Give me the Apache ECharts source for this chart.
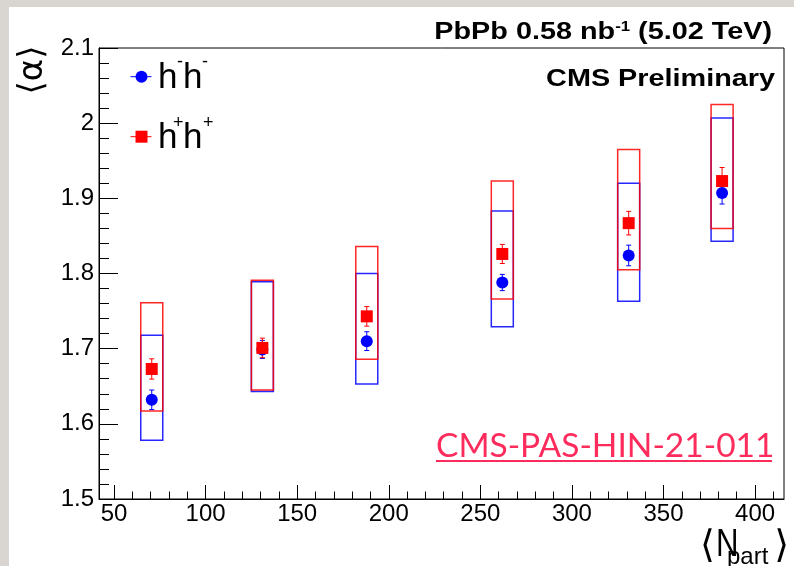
<!DOCTYPE html>
<html><head><meta charset="utf-8">
<script src="https://cdn.jsdelivr.net/npm/echarts@6/dist/echarts.min.js"></script>
<style>html,body{margin:0;padding:0;background:#fff}#c{width:794px;height:566px}</style>
</head><body><div id="c"></div>
<script>
// ---- data ----
const npart = [70.6, 131, 188, 262, 331, 382];

const alphaMinus   = [1.632, 1.699, 1.710, 1.788, 1.824, 1.907];
const statMinus    = [0.013, 0.012, 0.0125, 0.0108, 0.0137, 0.0146];
const sysMinusLow  = [1.578, 1.643, 1.653, 1.729, 1.763, 1.843];
const sysMinusHigh = [1.718, 1.789, 1.800, 1.883, 1.920, 2.007];

const alphaPlus    = [1.673, 1.701, 1.743, 1.826, 1.867, 1.923];
const statPlus     = [0.0135, 0.013, 0.013, 0.0127, 0.0157, 0.018];
const sysPlusLow   = [1.617, 1.645, 1.686, 1.766, 1.805, 1.860];
const sysPlusHigh  = [1.761, 1.791, 1.836, 1.923, 1.965, 2.025];

const xMajorTicks = [50, 100, 150, 200, 250, 300, 350, 400];
const xMinorTicks = [60, 70, 80, 90, 110, 120, 130, 140, 160, 170, 180, 190,
                     210, 220, 230, 240, 260, 270, 280, 290, 310, 320, 330, 340,
                     360, 370, 380, 390, 410];
const xRange = [41.8, 415.8];
const yRange = [1.5, 2.1];
const yStep = 0.1;

// ---- helpers ----
const BLUE = '#0000ff', RED = '#ff0000';
function rows(a, b) { return npart.map((x, i) => [x, a[i], b[i]]); }
function errRows(v, e) { return npart.map((x, i) => [x, v[i] - e[i], v[i] + e[i]]); }
function pts(v) { return npart.map((x, i) => [x, v[i]]); }

function boxSeries(data, color) {
  return {
    type: 'custom', data, silent: true, encode: { x: 0, y: [1, 2] },
    renderItem(params, api) {
      const t = api.coord([api.value(0), api.value(2)]);
      const b = api.coord([api.value(0), api.value(1)]);
      return { type: 'rect', shape: { x: t[0] - 11, y: t[1], width: 22, height: b[1] - t[1] },
        style: { fill: 'none', stroke: color, lineWidth: 1.5, opacity: 0.85 } };
    }
  };
}
function errSeries(data, color) {
  return {
    type: 'custom', data, silent: true, encode: { x: 0, y: [1, 2] },
    renderItem(params, api) {
      const t = api.coord([api.value(0), api.value(2)]);
      const b = api.coord([api.value(0), api.value(1)]);
      const st = { stroke: color, lineWidth: 1 };
      return { type: 'group', children: [
        { type: 'line', shape: { x1: t[0], y1: t[1], x2: b[0], y2: b[1] }, style: st },
        { type: 'line', shape: { x1: t[0] - 2.5, y1: t[1], x2: t[0] + 2.5, y2: t[1] }, style: st },
        { type: 'line', shape: { x1: b[0] - 2.5, y1: b[1], x2: b[0] + 2.5, y2: b[1] }, style: st }
      ] };
    }
  };
}

const FONT = 'Liberation Sans';
const txt = (x, y, text, o) => ({ type: 'text', x, y, z: 100, style: Object.assign({ text, fontFamily: FONT, fontSize: 24, fill: '#000', align: 'left', verticalAlign: 'middle' }, o || {}) });

const chart = echarts.init(document.getElementById('c'), null, { renderer: 'canvas' });
chart.setOption({
  animation: false,
  backgroundColor: '#ffffff',
  grid: { show: true, left: 99, top: 48, width: 685, height: 451, borderColor: '#000', borderWidth: 1, containLabel: false },
  xAxis: [
    { type: 'value', min: xRange[0], max: xRange[1], position: 'bottom',
      axisLine: { show: true, onZero: false, lineStyle: { color: '#000', width: 1 } },
      axisTick: { show: true, inside: true, length: 14, customValues: xMajorTicks, lineStyle: { color: '#000', width: 1 } },
      axisLabel: { customValues: xMajorTicks, color: '#000', fontFamily: FONT, fontSize: 24, margin: 3 },
      splitLine: { show: false } },
    { type: 'value', min: xRange[0], max: xRange[1], position: 'bottom',
      axisLine: { show: false },
      axisTick: { show: true, inside: true, length: 7.5, customValues: xMinorTicks, lineStyle: { color: '#000', width: 1 } },
      axisLabel: { show: false }, splitLine: { show: false } }
  ],
  yAxis: { type: 'value', min: yRange[0], max: yRange[1], interval: yStep,
    axisLine: { show: true, onZero: false, lineStyle: { color: '#000', width: 1 } },
    axisTick: { show: true, inside: true, length: 19, lineStyle: { color: '#000', width: 1 } },
    minorTick: { show: true, splitNumber: 5, length: 10, lineStyle: { color: '#000', width: 1 } },
    axisLabel: { color: '#000', fontFamily: FONT, fontSize: 24, margin: 5 },
    splitLine: { show: false }, minorSplitLine: { show: false } },
  series: [
    boxSeries(rows(sysMinusLow, sysMinusHigh), BLUE),
    boxSeries(rows(sysPlusLow, sysPlusHigh), RED),
    errSeries(errRows(alphaMinus, statMinus), BLUE),
    { type: 'scatter', name: 'h-h-', data: pts(alphaMinus), symbol: 'circle', symbolSize: 12, itemStyle: { color: BLUE, opacity: 1 }, silent: true },
    errSeries(errRows(alphaPlus, statPlus), RED),
    { type: 'scatter', name: 'h+h+', data: pts(alphaPlus), symbol: 'rect', symbolSize: 12, itemStyle: { color: RED, opacity: 1 }, silent: true }
  ],
  graphic: [
    { type: 'rect', z: 90, shape: { x: 0, y: 0, width: 9, height: 566 }, style: { fill: '#d9d6d1' } },
    { type: 'rect', z: 90, shape: { x: 0, y: 0, width: 794, height: 7 }, style: { fill: '#d9d6d1' } },
    // top label
    { type: 'text', x: 772, y: 32.5, z: 100, scaleX: 1.2, style: {
        text: '{a|PbPb 0.58 nb}{s|-1}{a| (5.02 TeV)}', align: 'right', verticalAlign: 'middle',
        rich: { a: { fontSize: 24, fontWeight: 'bold', fontFamily: FONT, fill: '#000' },
                s: { fontSize: 14, fontWeight: 'bold', fontFamily: FONT, fill: '#000', verticalAlign: 'top' } } } },
    { type: 'text', x: 775, y: 79.2, z: 100, scaleX: 1.2, style: { text: 'CMS Preliminary', fontFamily: FONT, fontWeight: 'bold', fontSize: 24, fill: '#000', align: 'right', verticalAlign: 'middle' } },
    // legend
    { type: 'line', z: 100, shape: { x1: 130.5, y1: 76.7, x2: 151.5, y2: 76.7 }, style: { stroke: BLUE, lineWidth: 1 } },
    { type: 'circle', z: 100, shape: { cx: 141.5, cy: 76.7, r: 6 }, style: { fill: BLUE } },
    txt(158, 78.4, 'h', { fontSize: 35 }),
    txt(177, 62, '-', { fontSize: 18 }),
    txt(183, 78.4, 'h', { fontSize: 35 }),
    txt(202, 62, '-', { fontSize: 18 }),
    { type: 'line', z: 100, shape: { x1: 130.5, y1: 136.7, x2: 151.5, y2: 136.7 }, style: { stroke: RED, lineWidth: 1 } },
    { type: 'rect', z: 100, shape: { x: 135.5, y: 130.7, width: 12, height: 12 }, style: { fill: RED } },
    txt(158, 138.4, 'h', { fontSize: 35 }),
    txt(173, 123, '+', { fontSize: 18 }),
    txt(183, 138.4, 'h', { fontSize: 35 }),
    txt(203, 123, '+', { fontSize: 18 }),
    // reference tag
    txt(436, 446.3, 'CMS-PAS-HIN-21-011', { fontFamily: 'Lato', fontSize: 33.5, fill: '#fe2c5c' }),
    { type: 'line', z: 100, shape: { x1: 436, y1: 461, x2: 772, y2: 461 }, style: { stroke: '#fe2c5c', lineWidth: 2 } },
    // axis titles
    { type: 'text', x: 33.5, y: 70, z: 100, rotation: Math.PI / 2, style: { text: '⟨α⟩', fontFamily: 'DejaVu Sans', fontSize: 34, fill: '#000', align: 'center', verticalAlign: 'middle' } },
    txt(700, 547, '⟨', { fontFamily: 'DejaVu Sans', fontSize: 38 }),
    { type: 'text', x: 716, y: 546, z: 100, scaleX: 0.82, style: { text: 'N', fontFamily: FONT, fontSize: 38, fill: '#000', align: 'left', verticalAlign: 'middle' } },
    txt(727, 557.6, 'part', { fontSize: 24 }),
    txt(789, 547, '⟩', { fontFamily: 'DejaVu Sans', fontSize: 38, align: 'right' })
  ]
});
</script></body></html>
